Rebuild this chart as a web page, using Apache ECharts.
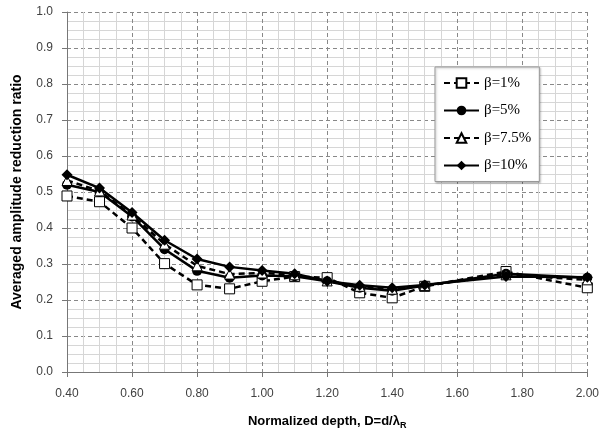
<!DOCTYPE html>
<html>
<head>
<meta charset="utf-8">
<script src="https://cdn.jsdelivr.net/npm/echarts@6/dist/echarts.min.js"></script>
<style>html,body{margin:0;padding:0;background:#fff;}#c{width:602px;height:435px;}</style>
</head>
<body>
<div id="c"></div>
<script>
const depth = [0.4, 0.5, 0.6, 0.7, 0.8, 0.9, 1.0, 1.1, 1.2, 1.3, 1.4, 1.5, 1.75, 2.0];
const beta1 = [0.489, 0.473, 0.400, 0.301, 0.242, 0.231, 0.252, 0.265, 0.262, 0.220, 0.206, 0.238, 0.279, 0.234];
const beta5 = [0.520, 0.500, 0.432, 0.341, 0.281, 0.262, 0.268, 0.266, 0.252, 0.234, 0.226, 0.240, 0.273, 0.262];
const beta75 = [0.532, 0.503, 0.436, 0.355, 0.295, 0.272, 0.275, 0.270, 0.253, 0.238, 0.230, 0.240, 0.270, 0.256];
const beta10 = [0.548, 0.511, 0.443, 0.366, 0.314, 0.292, 0.282, 0.273, 0.252, 0.241, 0.234, 0.242, 0.265, 0.263];
const seriesNames = ['β=1%', 'β=5%', 'β=7.5%', 'β=10%'];
const xTitle = 'Normalized depth, D=d/λ';
const yTitle = 'Averaged amplitude reduction ratio';

function pairs(vals) { return depth.map((d, i) => [d, vals[i]]); }

const chart = echarts.init(document.getElementById('c'), null, {renderer: 'canvas'});

function mk(name, vals, symbol, hollow, dashed, size) {
  return {
    name: name,
    type: 'line',
    data: pairs(vals),
    symbol: symbol,
    symbolSize: size,
    showAllSymbol: true,
    lineStyle: {color: '#000', width: 2.5, type: dashed ? [6, 4] : 'solid'},
    itemStyle: hollow ? {color: '#fff', borderColor: '#000', borderWidth: 1} : {color: '#000', borderColor: '#000', borderWidth: 0},
    emphasis: {disabled: true},
    animation: false
  };
}

chart.setOption({
  animation: false,
  backgroundColor: '#fff',
  grid: {left: 67, right: 12, top: 12, bottom: 57},
  legend: {
    orient: 'vertical',
    left: 435, top: 67,
    padding: [8, 8, 8, 8],
    itemWidth: 35, itemHeight: 12,
    itemGap: 11.5,
    backgroundColor: '#fff',
    borderColor: '#999', borderWidth: 1,
    shadowColor: 'rgba(0,0,0,0.25)', shadowBlur: 2, shadowOffsetX: 1, shadowOffsetY: 1,
    textStyle: {fontFamily: 'Liberation Serif', fontSize: 15, lineHeight: 16, color: '#000'},
    data: seriesNames
  },
  xAxis: {
    type: 'value', min: 0.4, max: 2.0, interval: 0.2,
    name: xTitle + '{s|R}',
    nameLocation: 'middle', nameGap: 41,
    nameTextStyle: {fontFamily: 'Liberation Sans', fontSize: 13, fontWeight: 'bold', color: '#000',
      rich: {s: {fontFamily: 'Liberation Sans', fontSize: 9, fontWeight: 'bold', color: '#000', padding: [8, 0, 0, 0]}}},
    axisLine: {show: true, onZero: false, lineStyle: {color: '#777', width: 1}},
    axisTick: {show: true, length: 5, lineStyle: {color: '#777'}},
    axisLabel: {margin: 16, fontFamily: 'Liberation Sans', fontSize: 12, color: '#404040', formatter: v => v.toFixed(2)},
    splitLine: {show: true, lineStyle: {color: '#888', type: [4, 3], width: 1}},
    minorTick: {show: false, splitNumber: 4},
    minorSplitLine: {show: true, lineStyle: {color: '#d6d6d6', width: 1}}
  },
  yAxis: {
    type: 'value', min: 0, max: 1, interval: 0.1,
    name: yTitle,
    nameLocation: 'middle', nameGap: 43, nameRotate: 90,
    nameTextStyle: {fontFamily: 'Liberation Sans', fontSize: 14, fontWeight: 'bold', color: '#000'},
    axisLine: {show: true, lineStyle: {color: '#777', width: 1}},
    axisTick: {show: true, length: 5, lineStyle: {color: '#777'}},
    axisLabel: {margin: 14, fontFamily: 'Liberation Sans', fontSize: 12, color: '#404040', formatter: v => v.toFixed(1)},
    splitLine: {show: true, lineStyle: {color: '#888', type: [4, 3], width: 1}},
    minorTick: {show: false, splitNumber: 4},
    minorSplitLine: {show: true, lineStyle: {color: '#d6d6d6', width: 1}}
  },
  series: [
    mk(seriesNames[0], beta1, 'rect', true, true, 10),
    mk(seriesNames[1], beta5, 'circle', false, false, 10),
    mk(seriesNames[2], beta75, 'triangle', true, true, 10),
    mk(seriesNames[3], beta10, 'diamond', false, false, 11)
  ]
});
</script>
</body>
</html>
